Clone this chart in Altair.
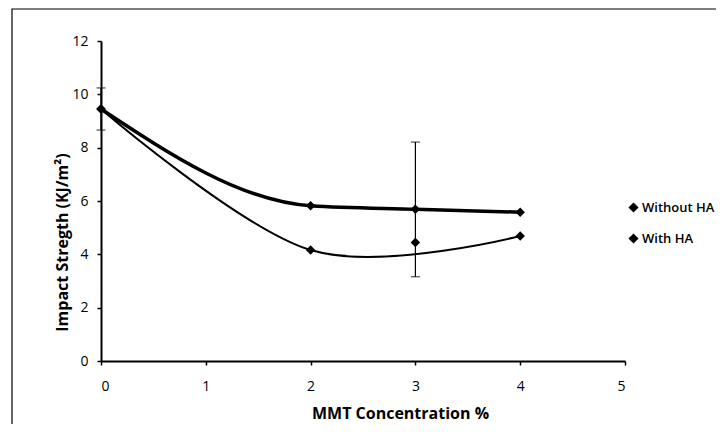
import altair as alt
import pandas as pd

conc = [0, 2, 3, 4]
without_ha = [9.45, 5.82, 5.69, 5.58]
with_ha = [9.45, 4.16, 4.44, 4.69]
# points that the smoothed "With HA" curve passes through (the x=3 marker sits off the curve)
with_ha_on_curve = [True, True, False, True]
series_names = ["Without HA", "With HA"]

err_x = [0, 3]
err_lo = [8.66, 3.16]
err_hi = [10.24, 8.21]

x_ticks = [0, 1, 2, 3, 4, 5]
y_ticks = [0, 2, 4, 6, 8, 10, 12]

rows = []
for x, v in zip(conc, without_ha):
    rows.append({"x": x, "y": v, "series": "Without HA", "curve": True})
for x, v, c in zip(conc, with_ha, with_ha_on_curve):
    rows.append({"x": x, "y": v, "series": "With HA", "curve": c})
df = pd.DataFrame(rows)
err = pd.DataFrame({"x": err_x, "lo": err_lo, "hi": err_hi})

FONT = "Open Sans"
xs = alt.Scale(domain=[0, 5], nice=False)
ys = alt.Scale(domain=[0, 12], nice=False)

xax = alt.Axis(title="MMT Concentration %", values=x_ticks, format="d",
               grid=False, domainColor="black", domainWidth=2, tickColor="black",
               tickSize=4, tickWidth=1.5, labelPadding=21, labelBaseline="middle",
               labelFontSize=14, titleFontSize=16, titleFontWeight="bold",
               titleX=299, titleY=52, titleBaseline="middle", titleAlign="center",
               labelColor="black", titleColor="black", labelFont=FONT, titleFont=FONT)
yax = alt.Axis(title="Impact Stregth (KJ/m²)", values=y_ticks, format="d",
               grid=False, domainColor="black", domainWidth=2, tickColor="black",
               tickSize=4, tickWidth=1.5, labelPadding=9,
               labelFontSize=14, titleFontSize=16, titleFontWeight="bold",
               titleX=-39, titleY=201, titleBaseline="middle", titleAlign="center",
               labelColor="black", titleColor="black", labelFont=FONT, titleFont=FONT)

base = alt.Chart(df)

line_without = base.transform_filter(
    (alt.datum.series == "Without HA") & alt.datum.curve
).mark_line(interpolate="monotone", color="black", strokeWidth=3.5).encode(
    x=alt.X("x:Q", scale=xs, axis=xax), y=alt.Y("y:Q", scale=ys, axis=yax))

line_with = base.transform_filter(
    (alt.datum.series == "With HA") & alt.datum.curve
).mark_line(interpolate="cardinal", tension=0, color="black", strokeWidth=2).encode(
    x=alt.X("x:Q", scale=xs), y=alt.Y("y:Q", scale=ys))

points = base.mark_point(filled=True, opacity=1, size=90, shape="diamond").encode(
    x=alt.X("x:Q", scale=xs),
    y=alt.Y("y:Q", scale=ys),
    color=alt.Color("series:N", scale=alt.Scale(domain=series_names, range=["black", "black"]),
                    legend=alt.Legend(title=None, orient="none", legendX=526, legendY=160,
                                      labelFont=FONT, labelFontSize=13, labelColor="black",
                                      labelFontWeight=600,
                                      symbolType="diamond", symbolSize=64,
                                      symbolFillColor="black", symbolStrokeColor="black",
                                      rowPadding=16, labelOffset=2, padding=0)),
)

eb = alt.Chart(err)
err_rule = eb.mark_rule(color="black", strokeWidth=1.2).encode(
    x=alt.X("x:Q", scale=xs), y=alt.Y("lo:Q", scale=ys), y2="hi:Q")
cap_lo = eb.mark_tick(orient="horizontal", color="black", thickness=1.2, size=9).encode(
    x=alt.X("x:Q", scale=xs), y=alt.Y("lo:Q", scale=ys))
cap_hi = eb.mark_tick(orient="horizontal", color="black", thickness=1.2, size=9).encode(
    x=alt.X("x:Q", scale=xs), y=alt.Y("hi:Q", scale=ys))

frame = alt.Chart(pd.DataFrame({"a": [0]})).mark_rect(
    fill=None, stroke="black", strokeWidth=1.2
).encode(x=alt.value(-89), x2=alt.value(640), y=alt.value(-32), y2=alt.value(420))

chart = alt.layer(frame, err_rule, cap_lo, cap_hi, line_with, line_without, points).properties(
    width=524, height=320,
    autosize=alt.AutoSizeParams(type="none"),
    padding={"left": 93, "top": 33, "right": 91, "bottom": 63},
).configure(background="white").configure_view(stroke=None)

chart.save("out.html", embed_options={"renderer": "svg", "actions": False})
